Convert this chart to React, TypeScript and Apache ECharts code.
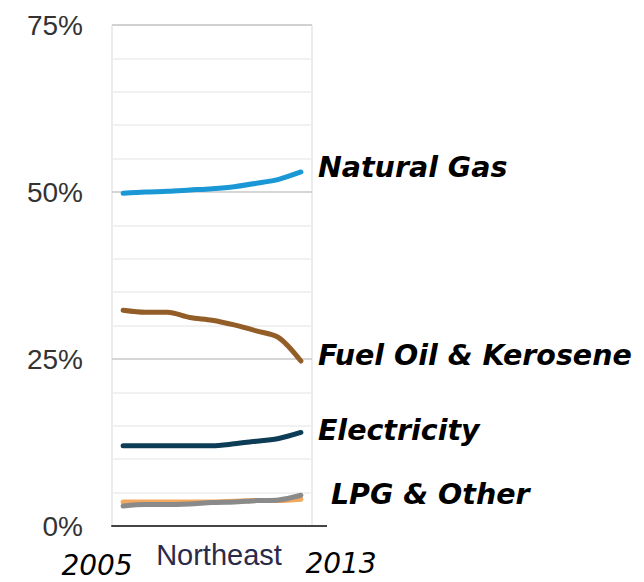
import React, { useEffect, useRef } from "react";
import * as echarts from "echarts";

const years = ["2005", "2006", "2007", "2008", "2009", "2010", "2011", "2012", "2013"];
const naturalGas = [49.8, 50.0, 50.1, 50.3, 50.5, 50.8, 51.3, 51.9, 53.0];
const fuelOil = [32.3, 32.0, 32.0, 31.2, 30.8, 30.1, 29.2, 28.2, 24.7];
const electricity = [12.0, 12.0, 12.0, 12.0, 12.0, 12.3, 12.7, 13.1, 14.0];
const lpg = [3.6, 3.6, 3.6, 3.6, 3.6, 3.7, 3.8, 3.8, 4.0];
const other = [3.0, 3.2, 3.2, 3.3, 3.5, 3.6, 3.8, 3.9, 4.6];
const yTickLabels = [0, 25, 50, 75];
const regionLabel = "Northeast";

const labelFont = {
  fontFamily: "DejaVu Sans",
  fontWeight: "bold" as const,
  fontStyle: "italic" as const,
  fontSize: 28.5,
  color: "#000",
};

export default function App() {
  const ref = useRef<HTMLDivElement>(null);
  useEffect(() => {
    if (!ref.current) return;
    const chart = echarts.init(ref.current, null, { renderer: "svg" });
    const mk = (name: string, data: number[], color: string, end?: any) => ({
      name,
      type: "line",
      data,
      smooth: 0.3,
      symbol: "none",
      lineStyle: { color, width: 5, cap: "round" },
      itemStyle: { color },
      endLabel: end
        ? { show: true, formatter: name, ...labelFont, ...end }
        : { show: false },
      z: 3,
    });
    chart.setOption({
      animation: false,
      grid: {
        left: 112,
        right: 332,
        top: 25,
        bottom: 56,
        show: true,
        borderColor: "#d9d9d9",
        borderWidth: 1,
        backgroundColor: "transparent",
      },
      xAxis: {
        type: "category",
        data: years,
        boundaryGap: true,
        axisLine: { show: true, lineStyle: { color: "#444", width: 2 } },
        axisTick: { show: false },
        axisLabel: { show: false },
        splitLine: { show: false },
      },
      yAxis: {
        type: "value",
        min: 0,
        max: 75,
        interval: 5,
        axisLine: { show: false },
        axisTick: { show: false },
        axisLabel: {
          fontFamily: "Liberation Sans",
          fontSize: 28,
          color: "#333",
          margin: 29,
          formatter: (v: number) => (yTickLabels.includes(v) ? v + "%" : ""),
        },
        splitLine: {
          show: true,
          lineStyle: { color: ["#c8c8c8", "#ececec", "#ececec", "#ececec", "#ececec"], width: 1.5 },
        },
      },
      series: [
        mk("Natural Gas", naturalGas, "#1a98d6", { distance: 17, offset: [0, -4] }),
        mk("Fuel Oil & Kerosene", fuelOil, "#935d27", { distance: 17, offset: [0, -6] }),
        mk("Electricity", electricity, "#0d3c56", { distance: 17, offset: [0, -2] }),
        mk("LPG", lpg, "#f2a85e"),
        mk("LPG & Other", other, "#8a8a8a", { distance: 30, offset: [0, -1] }),
      ],
      graphic: [
        {
          type: "line",
          shape: { x1: 112, y1: 526, x2: 327, y2: 526 },
          style: { stroke: "#444", lineWidth: 2 },
          z: 10,
        },
        {
          type: "text",
          x: 219,
          y: 555,
          style: {
            text: regionLabel,
            fontFamily: "Liberation Sans",
            fontSize: 29,
            fill: "#2a2a4a",
            textAlign: "center",
            textVerticalAlign: "middle",
          },
        },
        {
          type: "text",
          x: 97,
          y: 565,
          style: {
            text: years[0],
            fontFamily: "DejaVu Sans",
            fontStyle: "italic",
            fontSize: 28,
            fill: "#000",
            textAlign: "center",
            textVerticalAlign: "middle",
          },
        },
        {
          type: "text",
          x: 341,
          y: 563,
          style: {
            text: years[years.length - 1],
            fontFamily: "DejaVu Sans",
            fontStyle: "italic",
            fontSize: 28,
            fill: "#000",
            textAlign: "center",
            textVerticalAlign: "middle",
          },
        },
      ],
    });
    return () => chart.dispose();
  }, []);
  return (
    <div
      ref={ref}
      style={{ position: "fixed", left: 0, top: 0, width: 644, height: 582, background: "#fff" }}
    />
  );
}
